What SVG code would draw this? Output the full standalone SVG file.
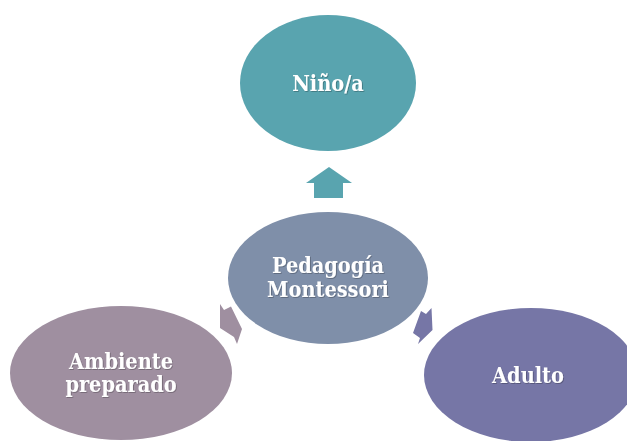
<svg xmlns="http://www.w3.org/2000/svg" width="627" height="441" viewBox="0 0 627 441">
  <defs>
    <style>
      .lbl { font-family: "DejaVu Serif", "Liberation Serif", serif; font-stretch: condensed; font-weight: bold; font-size: 21.5px; fill: #ffffff; text-anchor: middle; filter: url(#ts); }
      .teal { fill: #59A4AF; }
      .center { fill: #7F8FA9; }
      .mauve { fill: #9F8FA0; }
      .violet { fill: #7676A6; }
    </style>
    <filter id="ts" x="-10%" y="-20%" width="120%" height="140%">
      <feDropShadow dx="0.8" dy="0.8" stdDeviation="0.6" flood-color="#000000" flood-opacity="0.3"/>
    </filter>
  </defs>
  <rect width="627" height="441" fill="#ffffff"/>

  <g id="connectors">
    <polygon class="teal" points="329,167 352,183 343,183 343,198 314,198 314,183 306,183"/>
    <polygon class="mauve" points="220,304 224,310 231,306.5 242,329 237,344 234,337 220,328"/>
    <polygon class="violet" points="421,311 426,314 431.5,308 432.5,330 418,344 420,338 413,333"/>
  </g>

  <g id="node-nino">
    <ellipse class="teal" cx="328" cy="83" rx="88" ry="68"/>
    <text class="lbl" x="328" y="91">Niño/a</text>
  </g>

  <g id="node-pedagogia">
    <ellipse class="center" cx="328" cy="278" rx="100" ry="66"/>
    <text class="lbl" x="328" y="273">Pedagogía</text>
    <text class="lbl" x="328" y="297">Montessori</text>
  </g>

  <g id="node-ambiente">
    <ellipse class="mauve" cx="121" cy="373" rx="111" ry="67"/>
    <text class="lbl" x="121" y="369">Ambiente</text>
    <text class="lbl" x="121" y="392">preparado</text>
  </g>

  <g id="node-adulto">
    <ellipse class="violet" cx="531" cy="375" rx="107" ry="67"/>
    <text class="lbl" x="528" y="383">Adulto</text>
  </g>
</svg>
